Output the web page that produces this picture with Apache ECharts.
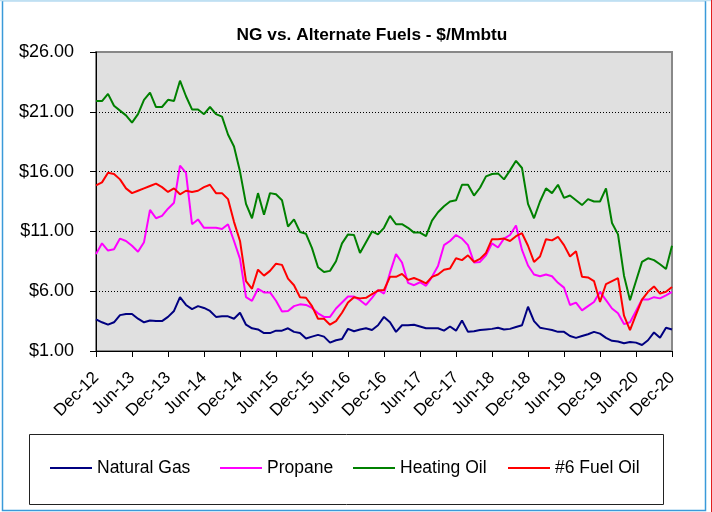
<!DOCTYPE html>
<html lang="en" style="height: 100%">
    <head>
        <meta charset="utf-8">
        <title>NG vs. Alternate Fuels</title>
    </head>
    <body style="height: 100%; margin: 0; background: #fff">
        <div id="container" style="width: 712px; height: 512px"></div>
        <script src="https://cdn.jsdelivr.net/npm/echarts@6/dist/echarts.min.js"></script>
        <script>
            let seriesNames = ["Natural Gas", "Propane", "Heating Oil", "#6 Fuel Oil"];
            let seriesColors = ["#000080", "#ff00ff", "#008000", "#ff0000"];
            let monthNames = ["Jan", "Feb", "Mar", "Apr", "May", "Jun", "Jul", "Aug", "Sep", "Oct", "Nov", "Dec"];
            let yTicks = [1, 6, 11, 16, 21, 26];

            // monthly, Dec-12 .. Dec-20
            let naturalGas = [
                3.65, 3.4, 3.2, 3.4, 4.0, 4.1, 4.1, 3.7, 3.4, 3.55, 3.5, 3.5, 3.85, 4.35, 5.5, 4.85, 4.5, 4.75, 4.6, 4.35, 3.85, 3.9, 3.9, 3.7, 4.2, 3.2, 2.9, 2.8, 2.5, 2.5, 2.7, 2.7, 2.9,
                2.6, 2.5, 2.05, 2.2, 2.35, 2.2, 1.7, 1.9, 2.0, 2.85, 2.65, 2.8, 2.9, 2.75, 3.15, 3.85, 3.4, 2.6, 3.15, 3.15, 3.2, 3.05, 2.9, 2.9, 2.9, 2.7, 3.05, 2.7, 3.55, 2.6, 2.65, 2.75,
                2.8, 2.85, 2.95, 2.8, 2.85, 3.0, 3.15, 4.7, 3.5, 2.95, 2.85, 2.75, 2.6, 2.6, 2.25, 2.1, 2.25, 2.4, 2.6, 2.45, 2.1, 1.85, 1.8, 1.65, 1.75, 1.7, 1.5, 1.9, 2.55, 2.1, 2.95, 2.8
            ];
            let propane = [
                9.1, 10.0, 9.4, 9.5, 10.4, 10.2, 9.8, 9.3, 10.1, 12.8, 12.1, 12.3, 12.9, 13.4, 16.5, 15.9, 11.6, 12.0, 11.3, 11.3, 11.3, 11.2, 11.6, 10.2, 8.7, 5.5, 5.2, 6.2, 5.9, 5.9, 5.2, 4.3, 4.35,
                4.75, 4.9, 4.85, 4.6, 4.15, 3.85, 3.85, 4.55, 5.05, 5.55, 5.55, 5.25, 4.85, 5.45, 6.1, 5.8, 7.55, 9.1, 8.4, 6.7, 6.5, 6.75, 6.45, 7.2, 8.1, 9.85, 10.2, 10.7, 10.4, 9.85, 8.4, 8.45,
                9.0, 10.0, 9.65, 10.4, 10.7, 11.5, 9.45, 8.15, 7.4, 7.25, 7.4, 7.25, 6.7, 6.3, 4.85, 5.05, 4.4, 4.75, 5.1, 5.95, 5.25, 4.55, 4.15, 3.25, 3.4, 4.35, 5.3, 5.3, 5.5, 5.4, 5.65, 5.95
            ];
            let heatingOil = [
                21.9, 21.9, 22.5, 21.5, 21.1, 20.7, 20.1, 20.8, 22.0, 22.6, 21.4, 21.4, 22.0, 21.9, 23.6, 22.3, 21.2, 21.2, 20.8, 21.4, 20.8, 20.6, 19.1, 18.1, 16.0, 13.3, 12.1, 14.2, 12.4, 14.2, 14.1, 13.6, 11.4,
                12.0, 10.95, 10.8, 9.6, 8.0, 7.6, 7.7, 8.5, 10.0, 10.75, 10.7, 9.2, 10.1, 11.0, 10.75, 11.3, 12.3, 11.6, 11.6, 11.3, 10.9, 10.9, 10.6, 11.9, 12.6, 13.1, 13.5, 13.6, 14.9, 14.9, 14.0, 14.65,
                15.6, 15.8, 15.85, 15.35, 16.1, 16.9, 16.3, 13.3, 12.1, 13.5, 14.6, 14.2, 14.9, 13.8, 14.0, 13.6, 13.2, 13.7, 13.5, 13.5, 14.6, 11.7, 10.75, 7.3, 5.25, 6.85, 8.45, 8.75, 8.6, 8.25, 7.85, 9.8
            ];
            let fuelOil6 = [
                14.85, 15.1, 15.9, 15.8, 15.35, 14.6, 14.2, 14.4, 14.6, 14.8, 15.0, 14.7, 14.3, 14.6, 14.1, 14.4, 14.3, 14.4, 14.7, 14.9, 14.2, 14.2, 13.7, 11.8, 10.2, 6.85, 6.2, 7.8, 7.3, 7.7, 8.3, 8.2, 7.05,
                6.5, 5.5, 5.45, 4.75, 3.7, 3.7, 3.2, 3.5, 4.2, 5.05, 5.5, 5.4, 5.45, 5.75, 6.05, 6.1, 7.2, 7.2, 7.45, 6.95, 7.1, 6.9, 6.65, 7.2, 7.4, 7.8, 7.9, 8.75, 8.6, 9.0, 8.45, 8.7,
                9.2, 10.35, 10.35, 10.4, 10.2, 10.6, 10.85, 9.8, 8.45, 8.9, 10.35, 10.25, 10.55, 9.85, 8.9, 9.35, 7.2, 7.15, 6.85, 5.1, 6.6, 6.85, 7.1, 3.95, 2.75, 4.05, 5.3, 5.95, 6.4, 5.8, 5.95, 6.35
            ];

            let months = [];
            for (let index = 0; index < naturalGas.length; index++) {
                let m = (11 + index) % 12;
                let y = 12 + Math.floor((11 + index) / 12);
                months.push(monthNames[m] + "-" + y);
            }

            let font = "'Liberation Sans', Arial, sans-serif";
            let allData = [naturalGas, propane, heatingOil, fuelOil6];
            let legendLeft = [50, 220, 353, 508];

            let series = [];
            let legends = [];
            for (let index = 0; index < seriesNames.length; index++) {
                series.push({
                    name: seriesNames[index],
                    type: "line",
                    data: allData[index],
                    showSymbol: false,
                    symbol: "none",
                    lineStyle: { color: seriesColors[index], width: 2 },
                    itemStyle: { color: seriesColors[index] },
                    animation: false
                });
                legends.push({
                    data: [seriesNames[index]],
                    left: legendLeft[index],
                    top: 459,
                    padding: 0,
                    icon: "rect",
                    itemWidth: 42,
                    itemHeight: 2,
                    textStyle: { fontFamily: font, fontSize: 17.5, color: "#000" }
                });
            }

            let chart = echarts.init(document.getElementById("container"), null, { renderer: "canvas" });
            let option = {
                animation: false,
                title: {
                    text: "NG vs. Alternate Fuels - $/Mmbtu",
                    left: 367,
                    textAlign: "center",
                    top: 22,
                    textStyle: { fontFamily: font, fontSize: 17.3, fontWeight: "bold", color: "#000" }
                },
                grid: {
                    left: 96,
                    right: 40,
                    top: 52,
                    bottom: 161,
                    show: true,
                    backgroundColor: "#e0e0e0",
                    borderColor: "#888",
                    borderWidth: 2
                },
                legend: legends,
                xAxis: {
                    type: "category",
                    data: months,
                    boundaryGap: false,
                    axisLine: { lineStyle: { color: "#000", width: 1 } },
                    axisTick: { interval: 5, length: 6, lineStyle: { color: "#000" } },
                    axisLabel: {
                        interval: 5,
                        rotate: 45,
                        margin: 24,
                        fontFamily: font,
                        fontSize: 17,
                        color: "#000"
                    },
                    splitLine: { show: false }
                },
                yAxis: {
                    type: "value",
                    min: yTicks[0],
                    max: yTicks[yTicks.length - 1],
                    interval: yTicks[1] - yTicks[0],
                    axisLine: { show: true, lineStyle: { color: "#000", width: 1 } },
                    axisTick: { show: true, length: 6, lineStyle: { color: "#000" } },
                    axisLabel: {
                        margin: 22,
                        fontFamily: font,
                        fontSize: 18,
                        color: "#000",
                        formatter: function (v) { return "$" + v.toFixed(2); }
                    },
                    splitLine: {
                        show: true,
                        showMinLine: false,
                        showMaxLine: false,
                        lineStyle: { color: "#000", type: [1, 2], width: 1 }
                    }
                },
                graphic: [
                    {
                        type: "rect",
                        shape: { x: 29.5, y: 434.5, width: 634, height: 70 },
                        style: { fill: "none", stroke: "#222", lineWidth: 1 },
                        z: -1
                    },
                    {
                        type: "rect",
                        shape: { x: 2.5, y: 0.5, width: 703, height: 510 },
                        style: { fill: "none", stroke: "#3a9ad9", lineWidth: 1.5 },
                        z: -1
                    },
                    {
                        type: "line",
                        shape: { x1: 0, y1: 0.5, x2: 712, y2: 0.5 },
                        style: { stroke: "#bfe0f2", lineWidth: 1.5 },
                        z: -1
                    },
                    {
                        type: "line",
                        shape: { x1: 711.5, y1: 0, x2: 711.5, y2: 512 },
                        style: { stroke: "#e02020", lineWidth: 1 },
                        z: -1
                    }
                ],
                series: series
            };

            chart.setOption(option);
        </script>
    </body>
</html>
